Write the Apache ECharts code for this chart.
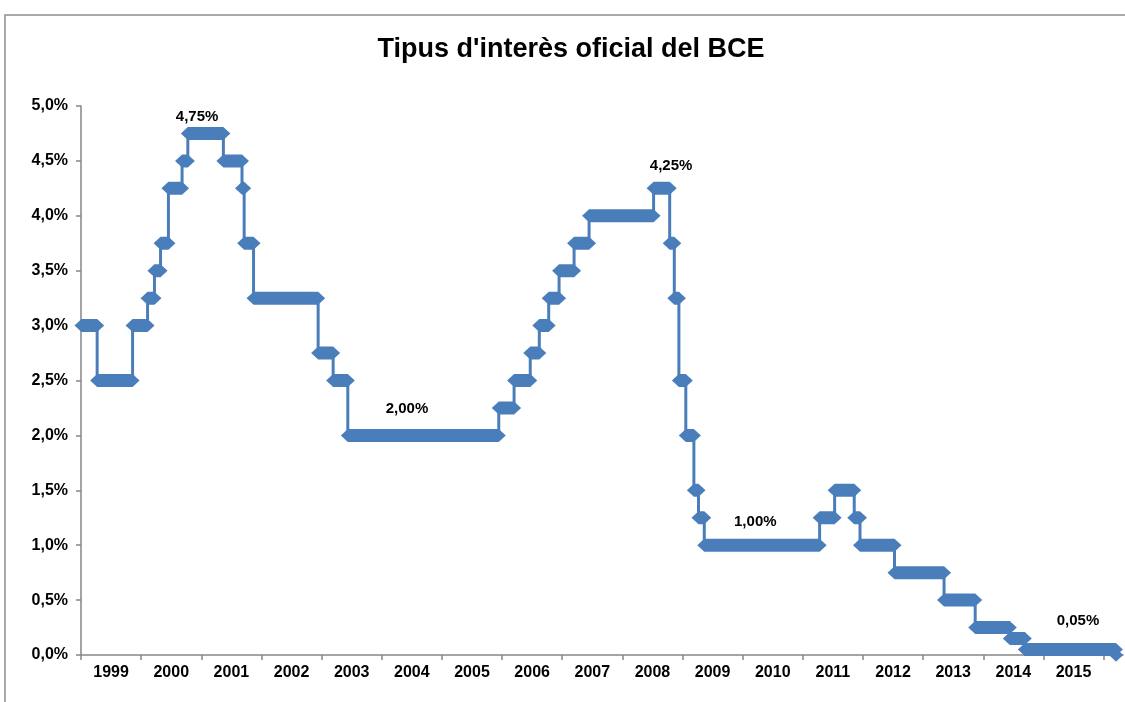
<!DOCTYPE html>
<html><head><meta charset="utf-8">
<script src="https://cdn.jsdelivr.net/npm/echarts@6/dist/echarts.min.js"></script>
<style>html,body{margin:0;padding:0;background:#fff}#c{width:1125px;height:702px}</style>
</head><body><div id="c"></div>
<script>
// ECB main refinancing rate: effective dates of each change and new rate (%)
const changeDates = ['1999-01-04','1999-04-09','1999-11-10','2000-02-09','2000-03-22','2000-04-28','2000-06-15','2000-09-06','2000-10-11','2001-05-15','2001-09-05','2001-09-18','2001-11-14','2002-12-11','2003-03-12','2003-06-09','2005-12-12','2006-03-15','2006-06-21','2006-08-15','2006-10-11','2006-12-13','2007-03-14','2007-06-13','2008-07-09','2008-10-15','2008-11-12','2008-12-10','2009-01-21','2009-03-11','2009-04-08','2009-05-13','2011-04-13','2011-07-13','2011-11-09','2011-12-14','2012-07-11','2013-05-08','2013-11-13','2014-06-11','2014-09-10','2016-03-16'];
const rates = [3.00,2.50,3.00,3.25,3.50,3.75,4.25,4.50,4.75,4.50,4.25,3.75,3.25,2.75,2.50,2.00,2.25,2.50,2.75,3.00,3.25,3.50,3.75,4.00,4.25,3.75,3.25,2.50,2.00,1.50,1.25,1.00,1.25,1.50,1.25,1.00,0.75,0.50,0.25,0.15,0.05,0.00];
const seriesEnd = '2016-03-18';
const years = [1999,2000,2001,2002,2003,2004,2005,2006,2007,2008,2009,2010,2011,2012,2013,2014,2015];
// highlighted values shown as labels
const labelValues = [4.75, 4.25, 2.00, 1.00, 0.05];
const labelAnchorX = [2000.93, 2008.81, 2004.42, 2010.21, 2015.575];
const labelAnchorY = [4.90, 4.455, 2.245, 1.209, 0.309];

const COLOR = '#4a7ebb';
function dy(s){
  const d = Date.UTC(+s.slice(0,4), +s.slice(5,7)-1, +s.slice(8,10));
  const y = +s.slice(0,4);
  const a = Date.UTC(y,0,1), b = Date.UTC(y+1,0,1);
  return y + (d-a)/(b-a);
}
const fmt = v => v.toFixed(2).replace('.', ',') + '%';

const bands = rates.map((r,i) => [dy(changeDates[i]), dy(i < rates.length-1 ? changeDates[i+1] : seriesEnd), r]);
const stepData = rates.map((r,i) => [dy(changeDates[i]), r]);
stepData.push([dy(seriesEnd), rates[rates.length-1]]);

const AX = '#868686';
const FONT = "'Liberation Sans', Arial, sans-serif";
const chart = echarts.init(document.getElementById('c'), null, {renderer:'canvas'});
chart.setOption({
  animation: false,
  backgroundColor: '#fff',
  grid: {left: 81, right: 2, top: 106, bottom: 47},
  graphic: [
    {type:'rect', shape:{x:5, y:15, width:3000, height:3000}, style:{fill:'none', stroke:'#8f8f8f', lineWidth:1.5}, silent:true},
    {type:'text', x:571, y:50, style:{text:"Tipus d'interès oficial del BCE", textAlign:'center', textVerticalAlign:'middle', font:"bold 27px 'Liberation Sans Narrow', 'Liberation Sans', Arial, sans-serif", fill:'#000'}}
  ],
  xAxis: {
    type:'value', min: years[0], max: 2016.323,
    axisLine:{show:true, lineStyle:{color:AX, width:1.5}},
    axisTick:{show:true, length:5, lineStyle:{color:AX, width:1.5}, customValues: years.concat([years[years.length-1]+1])},
    axisLabel:{show:true, customValues: years.map(y=>y+0.5), formatter: v => String(Math.floor(v)), color:'#000', fontWeight:'bold', fontSize:16, fontFamily:FONT, margin:10},
    splitLine:{show:false}
  },
  yAxis: {
    type:'value', min:0, max:5, interval:0.5,
    axisLine:{show:true, lineStyle:{color:AX, width:1.5}},
    axisTick:{show:true, length:5, lineStyle:{color:AX, width:1.5}},
    axisLabel:{formatter: v => v.toFixed(1).replace('.', ',') + '%', color:'#000', fontWeight:'bold', fontSize:16, fontFamily:FONT, margin:13},
    splitLine:{show:false}
  },
  series: [
    {type:'line', step:'end', data: stepData, showSymbol:false, lineStyle:{color:COLOR, width:3}, z:2, silent:true},
    {type:'custom', data: bands, clip:false, z:3, silent:true,
     renderItem: (params, api) => {
       const p1 = api.coord([api.value(0), api.value(2)]);
       const p2 = api.coord([api.value(1), api.value(2)]);
       const hw = 7, hh = 6.5;
       return {type:'polygon', shape:{points:[[p1[0]-hw,p1[1]],[p1[0],p1[1]-hh],[p2[0],p2[1]-hh],[p2[0]+hw,p2[1]],[p2[0],p2[1]+hh],[p1[0],p1[1]+hh]]}, style:{fill:COLOR}};
     }},
    {type:'custom', z:4, silent:true, clip:false,
     data: labelValues.map((v,i)=>[labelAnchorX[i], labelAnchorY[i], v]),
     renderItem: (params, api) => {
       const p = api.coord([api.value(0), api.value(1)]);
       return {type:'text', x:p[0], y:p[1], style:{text: fmt(api.value(2)), textAlign:'center', textVerticalAlign:'middle', fill:'#000', font:"bold 15px 'Liberation Sans', Arial, sans-serif"}};
     }}
  ]
});
</script></body></html>
